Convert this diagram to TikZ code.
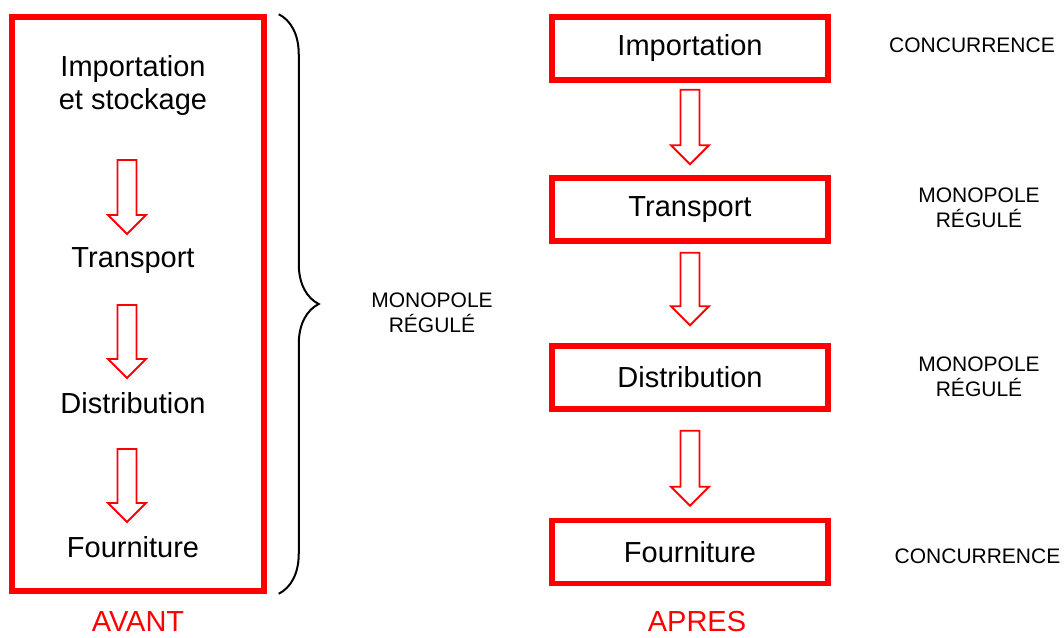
\documentclass[tikz,border=0pt]{standalone}
\usepackage{fontspec}
\setmainfont{Liberation Sans}
\usetikzlibrary{calc,positioning,decorations.pathreplacing}

% hollow block arrow pointing down, from #1 (top of shaft) to #2 (tip)
\newcommand{\hollowarrow}[2]{%
  \draw[hollow] let \p1=#1, \p2=#2 in
    (\x1-9.5pt,\y1) -- (\x1+9.5pt,\y1) -- (\x1+9.5pt,\y2+19pt) -- (\x1+19pt,\y2+19pt)
    -- (\x1,\y2) -- (\x1-19pt,\y2+19pt) -- (\x1-9.5pt,\y2+19pt) -- cycle;}

\begin{document}
\begin{tikzpicture}[x=1pt, y=-1pt,
	stage/.style = {align=center, inner sep=0pt, font=\fontsize{29}{33}\selectfont},
	stagebox/.style = {stage, draw=red, line width=5.5pt, minimum width=276pt, minimum height=63pt},
	tagtext/.style = {align=center, inner sep=0pt, font=\fontsize{21}{24.5}\selectfont},
	era/.style = {stage, text=red},
	hollow/.style = {draw=red, line width=1.8pt, fill=white, line join=miter}]
	\useasboundingbox (0,0) rectangle (1064,637);

	% avant
	\node [draw=red, line width=5.5pt, minimum width=252pt, minimum height=574pt] (before) at (138,304) {};
	\node [stage] (imp0) at (133,86) {Importation\\et stockage};
	\node [stage] (tr0) at (133,261) {Transport};
	\node [stage] (di0) at (133,403) {Distribution};
	\node [stage] (fo0) at (133,547) {Fourniture};
	\hollowarrow{($(imp0.center)+(-6,74)$)}{($(tr0.center)+(-6,-27)$)}
	\hollowarrow{($(tr0.center)+(-6,44)$)}{($(di0.center)+(-6,-25)$)}
	\hollowarrow{($(di0.center)+(-6,46)$)}{($(fo0.center)+(-6,-25)$)}
	\draw [decorate, decoration={brace, amplitude=40pt}, line width=2pt]
		($(before.north east)+(12,0)$) -- ($(before.south east)+(12,0)$);
	\node [tagtext] (m0) at (432,313) {MONOPOLE\\RÉGULÉ};
	\node [era] (avant) at (138,622) {AVANT};

	% apres
	\node [stagebox] (imp) at (690,48.5) {Importation};
	\node [stagebox] (tr) at (690,209.5) {Transport};
	\node [stagebox] (di) at (690,377.5) {Distribution};
	\node [stagebox] (fo) at (690,552) {Fourniture};
	\hollowarrow{($(imp.south)+(0,7)$)}{($(tr.north)+(0,-11)$)}
	\hollowarrow{($(tr.south)+(0,9)$)}{($(di.north)+(0,-18)$)}
	\hollowarrow{($(di.south)+(0,19)$)}{($(fo.north)+(0,-12)$)}
	\node [tagtext] (c1) at (972,45) {CONCURRENCE};
	\node [tagtext] (m2) at (979,208) {MONOPOLE\\RÉGULÉ};
	\node [tagtext] (m3) at (979,377) {MONOPOLE\\RÉGULÉ};
	\node [tagtext] (c4) at (977.5,556) {CONCURRENCE};
	\node [era] (apres) at (697,622) {APRES};
\end{tikzpicture}
\end{document}
